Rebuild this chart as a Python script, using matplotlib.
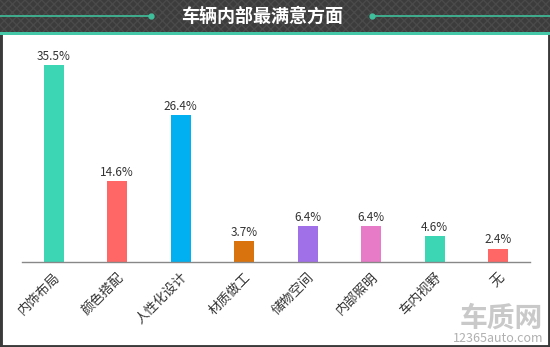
import matplotlib.pyplot as plt
from matplotlib.patches import Rectangle
from matplotlib.lines import Line2D

plt.rcParams['font.family'] = ['Noto Sans CJK SC', 'DejaVu Sans']

# 数据
categories = ["内饰布局", "颜色搭配", "人性化设计", "材质做工", "储物空间", "内部照明", "车内视野", "无"]
values = [35.5, 14.6, 26.4, 3.7, 6.4, 6.4, 4.6, 2.4]
colors = ["#3dd6b5", "#ff6666", "#00b0f0", "#d9730d", "#a070e8", "#e87bc8", "#3dd6b5", "#ff6666"]
title = "车辆内部最满意方面"

W, H = 550, 347
fig = plt.figure(figsize=(W / 100, H / 100), dpi=100)
fig.patch.set_facecolor("white")

# --- 边框 + 标题栏 ---
def fx(px):
    return px / W

def fy(py):
    return 1 - py / H

fig.add_artist(Rectangle((0, 0), 1, 1, transform=fig.transFigure,
                         facecolor="none", edgecolor="#3a3a3a", linewidth=3.5, zorder=0))
fig.add_artist(Rectangle((0, fy(32)), 1, 32 / H, transform=fig.transFigure,
                         facecolor="#3c3c3c", edgecolor="#4a4a4a", linewidth=0,
                         hatch="xxxx", zorder=1))
fig.add_artist(Rectangle((0, fy(35)), 1, 3 / H, transform=fig.transFigure,
                         facecolor="#45c8a8", edgecolor="none", zorder=1))
fig.add_artist(Line2D([0, fx(152)], [fy(16), fy(16)], transform=fig.transFigure,
                      color="#3fc09c", linewidth=1.2, zorder=2))
fig.add_artist(Line2D([fx(372), 1], [fy(16), fy(16)], transform=fig.transFigure,
                      color="#3fc09c", linewidth=1.2, zorder=2))
fig.add_artist(Line2D([fx(151), fx(372)], [fy(16), fy(16)], transform=fig.transFigure,
                      linestyle="none", marker="o", markersize=3.5, color="#3fc09c",
                      markevery=[0, 1], zorder=2))
fig.text(fx(262), fy(16.5), title, color="white", fontsize=13, fontweight="bold",
         ha="center", va="center", zorder=3)

# --- 柱状图 ---
ax = fig.add_axes([fx(22), 1 - 262 / H, fx(530) - fx(22), (262 - 40) / H])
x = range(len(categories))
bars = ax.bar(x, values, width=0.31, color=colors, zorder=2)
for xi, v in zip(x, values):
    ax.text(xi, v + 0.4, f"{v}%", ha="center", va="bottom", fontsize=8.5, color="#333333")

ax.set_xlim(-0.5, len(categories) - 0.5)
ax.set_ylim(0, 40)
ax.set_yticks([])
ax.set_xticks(list(x))
ax.set_xticklabels(categories, rotation=45, ha="right", rotation_mode="anchor",
                   fontsize=9.5, color="#333333")
ax.tick_params(axis="x", length=0, pad=6)
for s in ["top", "left", "right"]:
    ax.spines[s].set_visible(False)
ax.spines["bottom"].set_color("#888888")
ax.spines["bottom"].set_linewidth(1)
ax.set_facecolor("none")

# --- 水印 ---
fig.text(fx(543), fy(319), "车质网", ha="right", va="center", fontsize=20,
         fontweight="bold", color="#c4c4c4", alpha=0.9)
fig.text(fx(543), fy(339), "12365auto.com", ha="right", va="center", fontsize=9,
         color="#b0b0b0")

fig.savefig("out.png", dpi=100)
